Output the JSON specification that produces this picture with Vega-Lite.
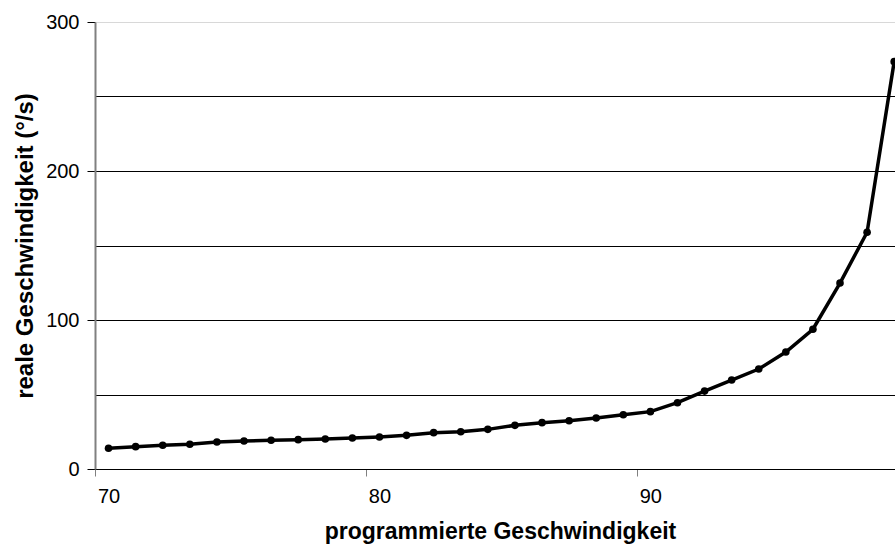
{
  "$schema": "https://vega.github.io/schema/vega-lite/v6.json",
  "width": 800,
  "height": 447,
  "autosize": {"type": "none"},
  "padding": {"left": 95, "top": 22, "right": 0, "bottom": 80},
  "background": "white",
  "config": {
    "view": {"stroke": null},
    "font": "Liberation Sans"
  },
  "data": {
    "values": [
      {"prog": 70, "real": 13.9},
      {"prog": 71, "real": 15.0},
      {"prog": 72, "real": 15.9},
      {"prog": 73, "real": 16.6},
      {"prog": 74, "real": 18.1},
      {"prog": 75, "real": 18.8},
      {"prog": 76, "real": 19.3},
      {"prog": 77, "real": 19.7},
      {"prog": 78, "real": 20.1},
      {"prog": 79, "real": 20.8},
      {"prog": 80, "real": 21.5},
      {"prog": 81, "real": 22.6},
      {"prog": 82, "real": 24.4},
      {"prog": 83, "real": 25.0},
      {"prog": 84, "real": 26.6},
      {"prog": 85, "real": 29.3},
      {"prog": 86, "real": 31.1},
      {"prog": 87, "real": 32.4},
      {"prog": 88, "real": 34.2},
      {"prog": 89, "real": 36.4},
      {"prog": 90, "real": 38.5},
      {"prog": 91, "real": 44.5},
      {"prog": 92, "real": 52.3},
      {"prog": 93, "real": 59.7},
      {"prog": 94, "real": 67.1},
      {"prog": 95, "real": 78.5},
      {"prog": 96, "real": 93.8},
      {"prog": 97, "real": 124.8},
      {"prog": 98, "real": 158.9},
      {"prog": 99, "real": 273.4}
    ]
  },
  "encoding": {
    "x": {
      "field": "prog",
      "type": "quantitative",
      "scale": {"domain": [69.5, 99.03], "nice": false, "zero": false},
      "axis": {
        "title": "programmierte Geschwindigkeit",
        "titleFont": "Liberation Sans",
        "titleFontSize": 23,
        "titleFontWeight": "bold",
        "titleColor": "black",
        "titlePadding": 14,
        "titleX": 405,
        "values": [69.5, 70, 79.5, 80, 89.5, 90],
        "labelExpr": "datum.value % 1 === 0 ? datum.label : ''",
        "labelOverlap": false,
        "labelFlush": false,
        "labelFont": "Liberation Sans",
        "labelFontSize": 20,
        "labelColor": "black",
        "labelPadding": 10,
        "grid": false,
        "domainColor": "black",
        "domainWidth": 1,
        "tickColor": "#808080",
        "tickSize": 7,
        "tickWidth": 1,
        "tickOpacity": {"condition": {"test": "datum.value % 1 !== 0", "value": 1}, "value": 0}
      }
    },
    "y": {
      "field": "real",
      "type": "quantitative",
      "scale": {"domain": [0, 300], "nice": false},
      "axis": {
        "title": "reale Geschwindigkeit (°/s)",
        "titleFont": "Liberation Sans",
        "titleFontSize": 24,
        "titleFontWeight": "bold",
        "titleColor": "black",
        "titlePadding": 8,
        "values": [0, 50, 100, 150, 200, 250, 300],
        "labelExpr": "datum.value % 100 === 0 ? datum.label : ''",
        "labelOverlap": false,
        "labelFlush": false,
        "labelFont": "Liberation Sans",
        "labelFontSize": 20,
        "labelColor": "black",
        "labelPadding": 8,
        "grid": true,
        "gridColor": {"condition": {"test": "datum.value === 300", "value": "#d8d8d8"}, "value": "black"},
        "gridWidth": 1,
        "gridOpacity": 1,
        "domainColor": "#808080",
        "domainWidth": 2,
        "tickColor": "black",
        "tickSize": 8,
        "tickWidth": 1,
        "tickOpacity": {"condition": {"test": "datum.value % 100 === 0", "value": 1}, "value": 0}
      }
    }
  },
  "layer": [
    {"mark": {"type": "line", "color": "black", "strokeWidth": 3.5}},
    {"mark": {"type": "point", "filled": true, "color": "black", "opacity": 1, "size": 58}}
  ]
}
